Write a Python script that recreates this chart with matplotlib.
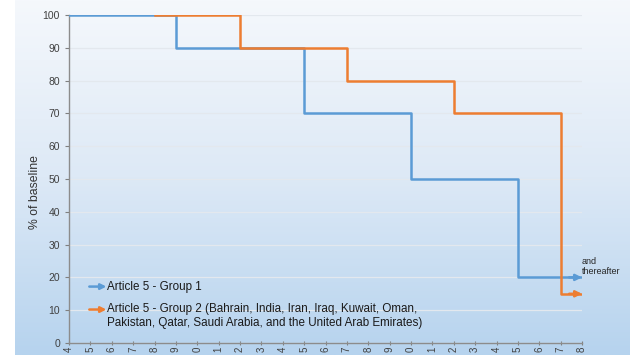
import numpy as np
import matplotlib
matplotlib.use("Agg")
import matplotlib.pyplot as plt
from matplotlib.colors import LinearSegmentedColormap

plt.rcParams['font.family'] = ['Liberation Sans', 'DejaVu Sans']

# data
years = list(range(2024, 2049))
year_labels = [str(y)[-1] for y in years]  # only the last digit shows in the original
group1_years = [2024, 2029, 2035, 2040, 2045, 2048]
group1_values = [100, 90, 70, 50, 20, 20]
group2_years = [2028, 2032, 2037, 2042, 2047, 2048]
group2_values = [100, 90, 80, 70, 15, 15]
group1_label = "Article 5 - Group 1"
group2_label = ("Article 5 - Group 2 (Bahrain, India, Iran, Iraq, Kuwait, Oman,\n"
                "Pakistan, Qatar, Saudi Arabia, and the United Arab Emirates)")
ylabel = "% of baseline"
note = "and\nthereafter"

blue = "#5b9bd5"
orange = "#ed7d31"

fig = plt.figure(figsize=(6.3, 3.55), dpi=100)
fig.patch.set_facecolor("white")

# gradient background
bg = fig.add_axes([15 / 630, 0, 1 - 15 / 630, 1], zorder=0)
cmap = LinearSegmentedColormap.from_list("bg", ["#f5f8fc", "#dde9f6", "#b6d3ee"])
grad = np.linspace(0, 1, 256).reshape(-1, 1)
bg.imshow(grad, aspect="auto", cmap=cmap, extent=[0, 1, 0, 1], origin="upper")
bg.axis("off")

ax = fig.add_axes([69 / 630, 1 - 343 / 355, (582 - 69) / 630, (343 - 15) / 355], zorder=1)
ax.set_facecolor("none")

ax.set_xlim(2024, 2048)
ax.set_ylim(0, 100)
ax.set_yticks(range(0, 101, 10))
ax.set_xticks(years)
ax.set_xticklabels(year_labels, rotation=90, va="top", fontsize=7, color="#404040")
ax.tick_params(axis="y", labelsize=7.5, colors="#404040", length=3, color="#7f7f7f")
ax.tick_params(axis="x", length=3, color="#7f7f7f", direction="inout", pad=1)
ax.grid(axis="y", color="#e3e8ee", linewidth=0.9)
ax.set_axisbelow(True)
for s in ["top", "right"]:
    ax.spines[s].set_visible(False)
for s in ["left", "bottom"]:
    ax.spines[s].set_color("#8c8c8c")
    ax.spines[s].set_linewidth(1)
ax.set_ylabel(ylabel, fontsize=8.8, color="#333333")
ax.yaxis.set_label_coords(-0.054, 0.46)

ax.step(group1_years, group1_values, where="post", color=blue, linewidth=1.8, zorder=3)
ax.step(group2_years, group2_values, where="post", color=orange, linewidth=1.8, zorder=4)

# arrow heads at the end of each series
for yrs, vals, c in [(group1_years, group1_values, blue), (group2_years, group2_values, orange)]:
    ax.annotate("", xy=(yrs[-1], vals[-1]), xytext=(yrs[-1] - 0.6, vals[-1]),
                arrowprops=dict(arrowstyle="-|>", color=c, lw=1.8, mutation_scale=9,
                                shrinkA=0, shrinkB=0), zorder=5, annotation_clip=False)

ax.text(2048.0, 20.5, note, fontsize=6.5, color="#262626", va="bottom", ha="left",
        linespacing=1.1, clip_on=False)

# legend with arrows
for y, c, lab in [(17.2, blue, group1_label), (10.2, orange, group2_label)]:
    ax.annotate("", xy=(2025.75, y), xytext=(2024.95, y),
                arrowprops=dict(arrowstyle="-|>", color=c, lw=1.8, mutation_scale=8,
                                shrinkA=0, shrinkB=0))
    two_lines = "\n" in lab
    ax.text(2025.8, y + (2.0 if two_lines else 0), lab, fontsize=8.4, color="#1a1a1a",
            va="top" if two_lines else "center",
            ha="left", linespacing=1.2, transform=ax.transData)

fig.savefig("out.png", dpi=100)
